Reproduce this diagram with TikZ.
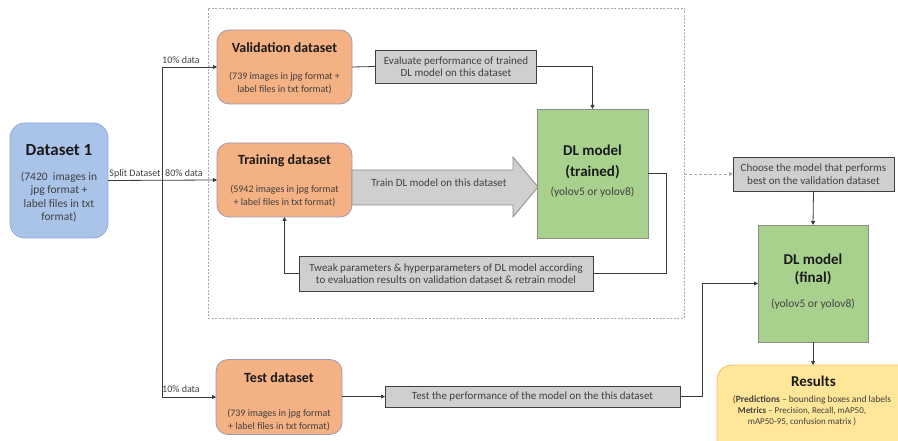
\documentclass[tikz,border=0pt]{standalone}
\usepackage{fontspec}
\setmainfont{Carlito}
\usetikzlibrary{arrows.meta,calc}
\definecolor{dsfill}{HTML}{AAC3E9}
\definecolor{dsdraw}{HTML}{8FAADC}
\definecolor{orfill}{HTML}{F4B183}
\definecolor{ordraw}{HTML}{9D9AB5}
\definecolor{grfill}{HTML}{A9D18E}
\definecolor{grdraw}{HTML}{8C8C8C}
\definecolor{gyfill}{HTML}{D0CECE}
\definecolor{gydraw}{HTML}{404040}
\definecolor{yefill}{HTML}{FFE699}
\definecolor{yedraw}{HTML}{F2BE6E}
\definecolor{linec}{HTML}{3A3A3A}
\definecolor{dashc}{HTML}{9FAAB8}
\definecolor{txtc}{HTML}{1A1A1A}
\definecolor{subc}{HTML}{404040}
\tikzset{
  every node/.style={inner sep=0pt, outer sep=0pt},
  dsbox/.style={draw=dsdraw, fill=dsfill, line width=0.8pt, rounded corners=15pt},
  orbox/.style={draw=ordraw, fill=orfill, line width=0.8pt, rounded corners=12pt},
  grbox/.style={draw=grdraw, fill=grfill, line width=0.8pt},
  gybox/.style={draw=gydraw, fill=gyfill, line width=0.8pt, text=subc, align=center, font=\fontsize{11}{12.5}\selectfont},
  yebox/.style={draw=yedraw, fill=yefill, line width=0.8pt, rounded corners=15pt},
  ttl/.style={text=txtc, font=\fontsize{14}{16}\selectfont\bfseries},
  subt/.style={text=subc, align=center, font=\fontsize{10}{13}\selectfont},
  lbl/.style={text=subc, font=\fontsize{10}{12}\selectfont},
  conn/.style={draw=linec, line width=0.8pt},
  arr/.style={conn, -{Triangle[length=4pt,width=4pt]}},
  dasharr/.style={draw=dashc, line width=0.8pt, dash pattern=on 3pt off 2pt, -{Triangle[length=4pt,width=4pt]}},
}
\begin{document}
\begin{tikzpicture}[x=1pt,y=-1pt]
\useasboundingbox (0,0) rectangle (898,441);
% dashed frame
\node[draw=dashc, line width=0.7pt, dash pattern=on 2pt off 1.5pt, minimum width=476pt, minimum height=310pt] (frame) at (446,163) {};
% Dataset 1
\node[dsbox, minimum width=98pt, minimum height=115pt] (ds) at (59,180.5) {};
\node[ttl, font=\fontsize{17}{19}\selectfont\bfseries] (dsT) at (59,150) {Dataset 1};
\node[subt, font=\fontsize{11.5}{13.5}\selectfont] (dsS) at (59,197) {(7420\ \ images in\\jpg format +\\label files in txt\\format)};
% Validation
\node[orbox, minimum width=135pt, minimum height=74pt] (val) at (284.5,67) {};
\node[ttl] (valT) at (284.5,48) {Validation dataset};
\node[subt] (valS) at (284.5,83.5) {(739 images in jpg format +\\label files in txt format)};
% Training
\node[orbox, minimum width=135pt, minimum height=74pt] (train) at (284.5,180) {};
\node[ttl] (trainT) at (284.5,161) {Training dataset};
\node[subt] (trainS) at (284.5,196.5) {(5942 images in jpg format\\+ label files in txt format)};
% Test
\node[orbox, minimum width=126pt, minimum height=75pt] (test) at (279,397) {};
\node[ttl] (testT) at (279,378) {Test dataset};
\node[subt] (testS) at (279,420) {(739 images in jpg format\\+ label files in txt format)};
% Evaluate
\node[gybox, minimum width=161pt, minimum height=33pt] (eval) at (456,66.5) {Evaluate performance of trained\\DL model on this dataset};
% Big arrow
\draw[draw=grdraw, fill=gyfill, line width=0.8pt] (352,170) -- (513,170) -- (513,157) -- (538,187) -- (513,217) -- (513,205) -- (352,205) -- cycle;
\node[text=subc, font=\fontsize{11}{12}\selectfont] (trainA) at (439,183) {Train DL model on this dataset};
% DL trained
\node[grbox, minimum width=111pt, minimum height=129pt] (dlt) at (592.5,173.5) {};
\node[text=txtc, align=center, font=\fontsize{15}{21}\selectfont\bfseries] (dltT) at (592.5,161.5) {DL model\\(trained)};
\node[text=subc, font=\fontsize{11.5}{13}\selectfont] (dltS) at (592.5,192) {(yolov5 or yolov8)};
% Tweak loop
\coordinate (tw1) at (666,273);
\draw[arr] (dlt.east) -| (tw1) -| (train.south);
\node[gybox, minimum width=294pt, minimum height=35pt] (tweak) at (446,273.5) {Tweak parameters \& hyperparameters of DL model according\\to evaluation results on validation dataset \& retrain model};
% Choose
\node[gybox, minimum width=161pt, minimum height=34pt] (choose) at (813.5,174) {Choose the model that performs\\best on the validation dataset};
% DL final
\node[grbox, minimum width=110pt, minimum height=117pt] (dlf) at (813,283.5) {};
\node[text=txtc, align=center, font=\fontsize{15}{18}\selectfont\bfseries] (dlfT) at (813,269) {DL model\\(final)};
\node[text=subc, font=\fontsize{11.5}{13}\selectfont] (dlfS) at (813,304) {(yolov5 or yolov8)};
% Results
\node[yebox, minimum width=205pt, minimum height=100pt] (res) at (819.5,415) {};
\node[ttl, font=\fontsize{15}{17}\selectfont\bfseries] (resT) at (813.5,381) {Results};
\node[text=subc, font=\fontsize{9.5}{11}\selectfont] (resS1) at (812,400) {(\textbf{Predictions} -- bounding boxes and labels};
\node[text=subc, align=center, font=\fontsize{9}{11}\selectfont] (resS2) at (802,416.5) {\textbf{Metrics} -- Precision, Recall, mAP50,\\mAP50-95, confusion matrix )};
% Test performance
\node[gybox, font=\fontsize{11}{12}\selectfont, minimum width=295pt, minimum height=21pt] (perf) at (532.5,396.5) {Test the performance of the model on the this dataset};
% connectors
\coordinate (sp) at (162,180.5);
\draw[arr] (ds.east) -- (train.west);
\draw[arr] (sp) |- (val.west);
\draw[arr] (sp) |- (test.west);
\node[lbl] (l10a) at (181,60) {10\% data};
\node[lbl] (lsplit) at (135,173.5) {Split Dataset};
\node[lbl] (l80) at (184,173.5) {80\% data};
\node[lbl] (l10b) at (181,389) {10\% data};
\draw[conn] (val.east) -- (eval.west);
\draw[arr] (eval.east) -| (dlt.north);
\draw[dasharr] (frame.east |- choose.west) -- (choose.west);
\draw[arr] (choose.south) -- (dlf.north);
\draw[arr] (dlf.south) -- (dlf.south |- res.north);
\draw[arr] (test.east |- perf.west) -- (perf.west);
\coordinate (c2) at (702,283.5);
\draw[arr] (perf.east) -| (c2) -- (dlf.west);
\end{tikzpicture}
\end{document}
